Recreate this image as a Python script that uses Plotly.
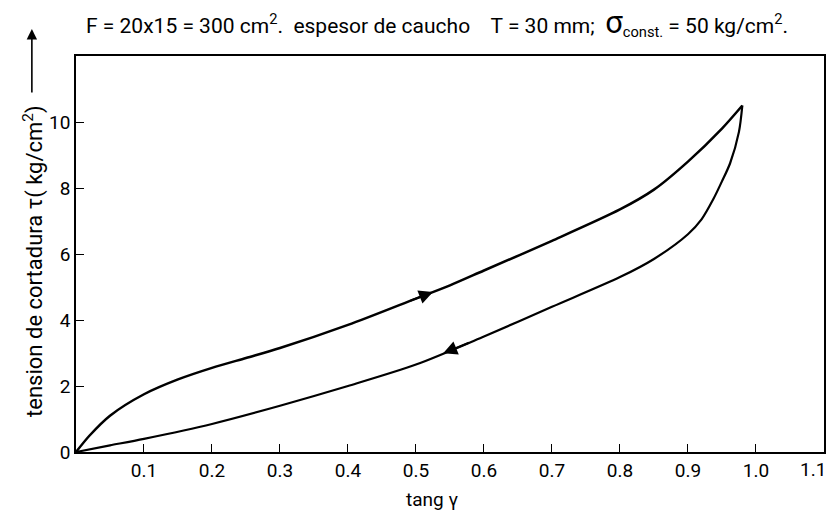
import numpy as np
import plotly.graph_objects as go

# Shear stress vs. shear strain for a rubber bearing (loading / unloading loop)
tang_load = [0.0, 0.02, 0.05, 0.1, 0.15, 0.2, 0.25, 0.3, 0.4, 0.5, 0.55, 0.6, 0.7, 0.8, 0.85, 0.9, 0.95, 0.98]
tau_load = [0.0, 0.5, 1.1, 1.75, 2.2, 2.55, 2.85, 3.15, 3.85, 4.65, 5.05, 5.5, 6.4, 7.35, 7.95, 8.8, 9.8, 10.5]

tang_unload = [0.98, 0.975, 0.962, 0.95, 0.937, 0.92, 0.9, 0.85, 0.8, 0.7, 0.6, 0.5, 0.4, 0.3, 0.2, 0.1, 0.05, 0.0]
tau_unload = [10.5, 9.7, 8.75, 8.2, 7.65, 7.05, 6.6, 5.85, 5.3, 4.4, 3.5, 2.65, 2.0, 1.4, 0.85, 0.4, 0.2, 0.0]

x_ticks = [0.1, 0.2, 0.3, 0.4, 0.5, 0.6, 0.7, 0.8, 0.9, 1.0, 1.1]
x_ticktext = ["0.1", "0.2", "0.3", "0.4", "0.5", "0.6", "0.7", "0.8", "0.9", "1.0", "1.1"]
y_ticks = [0, 2, 4, 6, 8, 10]

FONT = "Liberation Sans Narrow, Roboto, sans-serif"

fig = go.Figure()
fig.add_trace(go.Scatter(x=tang_load, y=tau_load, mode="lines",
                         line=dict(color="black", width=2.5, shape="spline", smoothing=0.8),
                         showlegend=False))
fig.add_trace(go.Scatter(x=tang_unload, y=tau_unload, mode="lines",
                         line=dict(color="black", width=2.2, shape="spline", smoothing=0.8),
                         showlegend=False))

# direction arrows along each branch
def arrow(xs, ys, x_from, x_to):
    order = np.argsort(xs)
    xa = np.asarray(xs)[order]
    ya = np.asarray(ys)[order]
    y0 = float(np.interp(x_from, xa, ya))
    y1 = float(np.interp(x_to, xa, ya))
    fig.add_annotation(x=x_to, y=y1, ax=x_from, ay=y0, xref="x", yref="y",
                       axref="x", ayref="y", showarrow=True, arrowhead=2,
                       arrowsize=1.4, arrowwidth=2, arrowcolor="black", text="")

arrow(tang_load, tau_load, 0.49, 0.525)
arrow(tang_unload, tau_unload, 0.58, 0.54)

# the last tick sits on the page edge: its label is right-aligned at the tick
axis_ticktext = x_ticktext[:-1] + [""]

fig.update_xaxes(range=[0, 1.1001], tickvals=x_ticks, ticktext=axis_ticktext,
                 ticks="inside", ticklen=8, tickwidth=1.2, tickcolor="black",
                 automargin=False,
                 showline=True, linecolor="black", linewidth=1.6, mirror=True,
                 showgrid=False, zeroline=False,
                 tickfont=dict(family=FONT, size=19, color="black"))
fig.update_yaxes(range=[0, 12], tickvals=y_ticks,
                 ticks="inside", ticklen=8, tickwidth=1.2, tickcolor="black",
                 automargin=False,
                 showline=True, linecolor="black", linewidth=1.6, mirror=True,
                 showgrid=False, zeroline=False,
                 tickfont=dict(family=FONT, size=19, color="black"))

fig.add_annotation(text=x_ticktext[-1], x=x_ticks[-1], xref="x", y=-0.043, yref="paper",
                   xanchor="right", yanchor="middle", xshift=4, showarrow=False,
                   font=dict(family=FONT, size=19, color="black"))

# header line
fig.add_annotation(
    text="F = 20x15 = 300 cm<sup>2</sup>.  espesor de caucho    T = 30 mm;  "
         "<span style='font-size:31px'>σ</span><sub>const.</sub> = 50 kg/cm<sup>2</sup>.",
    xref="paper", yref="paper", x=0.011, y=1.084, xanchor="left", yanchor="middle",
    showarrow=False, font=dict(family=FONT, size=21, color="black"))

# x-axis title
fig.add_annotation(text="tang γ", xref="paper", yref="paper", x=0.476, y=-0.085,
                   xanchor="center", yanchor="top", showarrow=False,
                   font=dict(family=FONT, size=19, color="black"))

# y-axis title with upward arrow
fig.add_annotation(text="tension de cortadura τ( kg/cm<sup>2</sup>)",
                   xref="paper", yref="paper", x=-0.057, y=0.4835, textangle=-90,
                   xanchor="center", yanchor="middle", showarrow=False,
                   font=dict(family=FONT, size=22, color="black"))
fig.add_annotation(x=-0.059, y=1.068, ax=0, ay=65, xref="paper", yref="paper",
                   axref="pixel", ayref="pixel", showarrow=True, arrowhead=2,
                   arrowsize=1.3, arrowwidth=1.6, arrowcolor="black", text="")

fig.update_layout(width=830, height=516,
                  margin=dict(l=76, r=6, t=56, b=64, autoexpand=False),
                  plot_bgcolor="white", paper_bgcolor="white",
                  font=dict(family=FONT, color="black"))

fig.write_html("out.html")
